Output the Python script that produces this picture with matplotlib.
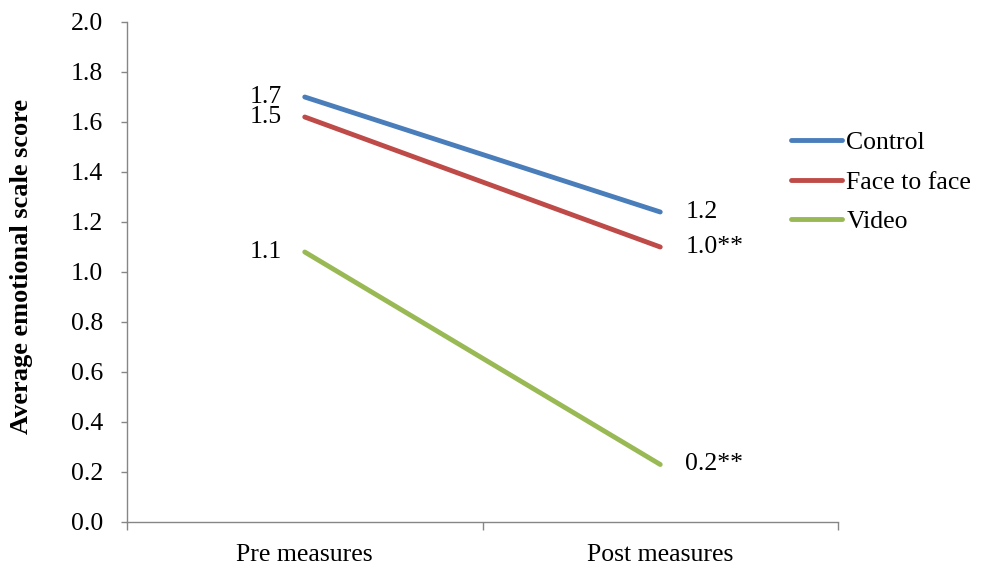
import matplotlib
matplotlib.use("Agg")
import matplotlib.pyplot as plt

plt.rcParams['font.family'] = ['Liberation Serif', 'DejaVu Serif']

categories = ["Pre measures", "Post measures"]
series_names = ["Control", "Face to face", "Video"]
control = [1.70, 1.24]
face_to_face = [1.62, 1.10]
video = [1.08, 0.23]
labels_control = ["1.7", "1.2"]
labels_face = ["1.5", "1.0**"]
labels_video = ["1.1", "0.2**"]
yticks = [0.0, 0.2, 0.4, 0.6, 0.8, 1.0, 1.2, 1.4, 1.6, 1.8, 2.0]

colors = ["#4A7EBB", "#BE4B48", "#98B954"]
FS = 18.5

fig = plt.figure(figsize=(9.82, 5.74), dpi=100)
ax = fig.add_axes([127/982, 52/574, 711/982, 500/574])

x = [1, 2]
all_vals = [control, face_to_face, video]
all_labels = [labels_control, labels_face, labels_video]
for name, vals, labs, c in zip(series_names, all_vals, all_labels, colors):
    ax.plot(x, vals, color=c, lw=3.5, solid_capstyle='round', label=name)
    ax.annotate(labs[0], (x[0], vals[0]), xytext=(-16.5, 0), textcoords='offset points',
                ha='right', va='center', fontsize=FS)
    ax.annotate(labs[1], (x[1], vals[1]), xytext=(18, 0), textcoords='offset points',
                ha='left', va='center', fontsize=FS)

ax.set_xlim(0.5, 2.5)
ax.set_ylim(0, 2.0)
ax.set_yticks(yticks)
ax.set_yticklabels([f"{v:.1f}" for v in yticks], fontsize=FS)
ax.set_xticks(x)
ax.set_xticklabels(categories, fontsize=FS)
ax.set_xticks([0.5, 1.5, 2.5], minor=True)
ax.tick_params(axis='x', which='major', length=0, pad=16)
ax.tick_params(axis='x', which='minor', length=6, color='#868686', width=1)
ax.tick_params(axis='y', which='major', length=4, color='#868686', width=1, pad=13)

for s in ['top', 'right']:
    ax.spines[s].set_visible(False)
for s in ['left', 'bottom']:
    ax.spines[s].set_color('#868686')
    ax.spines[s].set_linewidth(1)

ax.set_ylabel("Average emotional scale score", fontsize=19, fontweight='bold')
ax.yaxis.set_label_coords(-0.132, 0.51)

leg = ax.legend(loc='upper left', bbox_to_anchor=(791/982, 1 - 131/574),
                bbox_transform=fig.transFigure, frameon=False, fontsize=FS,
                handlelength=2.0, handletextpad=0.15, labelspacing=0.65,
                borderaxespad=0, borderpad=0)

fig.savefig("out.png", dpi=100)
